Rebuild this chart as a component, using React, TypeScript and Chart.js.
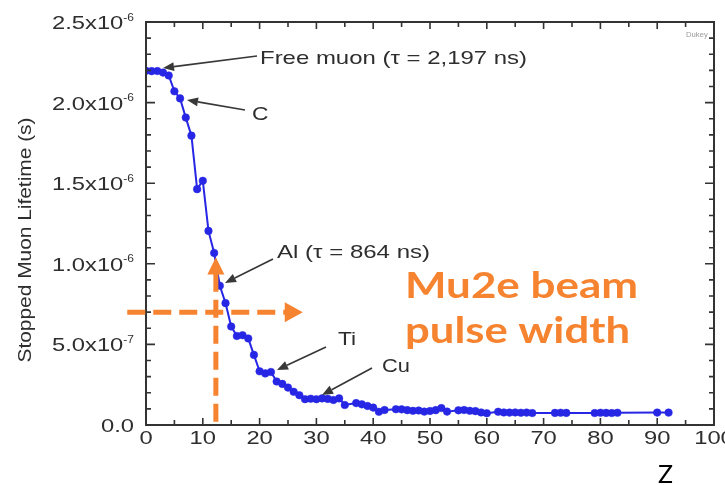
import React, { useEffect, useRef } from 'react';
import { Chart, registerables } from 'chart.js';

Chart.register(...registerables);

// ---- data ----
const atomicNumbers = [
  0, 1, 2, 3, 4, 5, 6, 7, 8, 9, 10, 11, 12, 13, 14, 15, 16, 17, 18, 19, 20,
  21, 22, 23, 24, 25, 26, 27, 28, 29, 30, 31, 32, 33, 34, 35, 37, 38, 39, 40,
  41, 42, 44, 45, 46, 47, 48, 49, 50, 51, 52, 53, 55, 56, 57, 58, 59, 60, 62,
  63, 64, 65, 66, 67, 68, 72, 73, 74, 79, 80, 81, 82, 83, 90, 92,
];
// stopped muon lifetime in microseconds
const lifetimesUs = [
  2.197, 2.195, 2.196, 2.186, 2.168, 2.07, 2.026, 1.907, 1.795, 1.463, 1.515,
  1.204, 1.067, 0.864, 0.756, 0.611, 0.552, 0.557, 0.537, 0.435, 0.333,
  0.32, 0.329, 0.27, 0.255, 0.232, 0.206, 0.185, 0.16, 0.163, 0.16, 0.165,
  0.162, 0.155, 0.165, 0.124, 0.136, 0.128, 0.118, 0.108, 0.082, 0.093,
  0.098, 0.097, 0.092, 0.088, 0.09, 0.083, 0.087, 0.092, 0.105, 0.083,
  0.091, 0.093, 0.088, 0.086, 0.078, 0.073, 0.082, 0.078, 0.077, 0.078,
  0.076, 0.077, 0.074, 0.075, 0.076, 0.075, 0.074, 0.076, 0.075, 0.074,
  0.076, 0.077, 0.077,
];
const xTickValues = [0, 10, 20, 30, 40, 50, 60, 70, 80, 90, 100];
const xTickLabels = ['0', '10', '20', '30', '40', '50', '60', '70', '80', '90', '100'];
const yTickValues = [0, 0.5e-6, 1.0e-6, 1.5e-6, 2.0e-6, 2.5e-6];
const yTickMantissas = ['0.0', '5.0x10', '1.0x10', '1.5x10', '2.0x10', '2.5x10'];
const yTickExponents = ['', '-7', '-6', '-6', '-6', '-6'];

const annotationTexts = [
  'Free muon (\u03c4 = 2,197 ns)',
  'C',
  'Al (\u03c4 = 864 ns)',
  'Ti',
  'Cu',
];
const pulseWidthLifetime = 0.7e-6;
const pulseWidthZ = 12.3;

const BLUE = '#2626e4';
const ORANGE = '#f6832f';
const AXIS = '#333333';
const TEXT = '#2e2e2e';
const ARIAL = '"Liberation Sans", Arial, sans-serif';
const CAL = 'Lato, "Open Sans", sans-serif';

function drawText(
  ctx: CanvasRenderingContext2D,
  s: string,
  x: number,
  y: number,
  font: string,
  color: string,
  align: 'left' | 'right' | 'center',
  sx: number,
  targetWidth?: number
) {
  ctx.save();
  ctx.font = font;
  ctx.fillStyle = color;
  ctx.textBaseline = 'alphabetic';
  ctx.textAlign = 'left';
  const raw = ctx.measureText(s).width;
  const scale = targetWidth ? targetWidth / raw : sx;
  const w = raw * scale;
  const x0 = align === 'left' ? x : align === 'right' ? x - w : x - w / 2;
  ctx.translate(x0, y);
  ctx.scale(scale, 1);
  ctx.fillText(s, 0, 0);
  ctx.restore();
  return w;
}

function arrow(
  ctx: CanvasRenderingContext2D,
  x1: number,
  y1: number,
  x2: number,
  y2: number,
  color: string,
  lw: number,
  headLen: number,
  headHalf: number
) {
  const ang = Math.atan2(y2 - y1, x2 - x1);
  const bx = x2 - headLen * Math.cos(ang);
  const by = y2 - headLen * Math.sin(ang);
  ctx.save();
  ctx.strokeStyle = color;
  ctx.fillStyle = color;
  ctx.lineWidth = lw;
  ctx.beginPath();
  ctx.moveTo(x1, y1);
  ctx.lineTo(bx, by);
  ctx.stroke();
  ctx.beginPath();
  ctx.moveTo(x2, y2);
  ctx.lineTo(bx + headHalf * Math.sin(ang), by - headHalf * Math.cos(ang));
  ctx.lineTo(bx - headHalf * Math.sin(ang), by + headHalf * Math.cos(ang));
  ctx.closePath();
  ctx.fill();
  ctx.restore();
}

const decorPlugin = {
  id: 'decor',
  afterDatasetsDraw(chart: any) {
    const ctx: CanvasRenderingContext2D = chart.ctx;
    const xs = chart.scales.x;
    const ys = chart.scales.y;
    const { left, right, top, bottom } = chart.chartArea;

    // frame
    ctx.save();
    ctx.strokeStyle = AXIS;
    ctx.lineWidth = 2;
    ctx.strokeRect(left, top, right - left, bottom - top);

    // x ticks (inward, bottom & top)
    ctx.lineWidth = 1.6;
    for (let v = 0; v <= 100; v += 5) {
      const px = xs.getPixelForValue(v);
      const len = v % 10 === 0 ? 7 : 5;
      ctx.beginPath();
      ctx.moveTo(px, bottom);
      ctx.lineTo(px, bottom - len);
      ctx.moveTo(px, top);
      ctx.lineTo(px, top + len);
      ctx.stroke();
    }
    // y ticks (inward, left & right)
    for (let i = 0; i <= 25; i++) {
      const py = ys.getPixelForValue(i * 1e-7);
      const len = i % 5 === 0 ? 9 : 5;
      ctx.beginPath();
      ctx.moveTo(left, py);
      ctx.lineTo(left + len, py);
      ctx.moveTo(right, py);
      ctx.lineTo(right - len, py);
      ctx.stroke();
    }
    ctx.restore();

    // black annotation arrows
    const arrows = [
      [257, 56, 163, 68],
      [245, 110, 187, 100],
      [273, 259, 225, 283],
      [326, 347, 277, 370],
      [372, 368, 322, 395],
    ];
    arrows.forEach((a) => arrow(ctx, a[0], a[1], a[2], a[3], '#383838', 1.7, 11, 4.5));

    // orange dashed arrows (pulse width)
    const hy = ys.getPixelForValue(pulseWidthLifetime);
    const hx0 = xs.getPixelForValue(-3.3);
    const hx1 = xs.getPixelForValue(24.6);
    const htip = xs.getPixelForValue(27.6);
    const vx = xs.getPixelForValue(pulseWidthZ);
    const vy0 = ys.getPixelForValue(0.02e-6);
    const vy1 = ys.getPixelForValue(0.94e-6);
    const vtip = ys.getPixelForValue(1.04e-6);
    ctx.save();
    ctx.strokeStyle = ORANGE;
    ctx.fillStyle = ORANGE;
    ctx.lineWidth = 5;
    ctx.setLineDash([18, 8]);
    ctx.beginPath();
    ctx.moveTo(hx0, hy);
    ctx.lineTo(hx1, hy);
    ctx.stroke();
    ctx.beginPath();
    ctx.moveTo(vx, vy0);
    ctx.lineTo(vx, vy1);
    ctx.stroke();
    ctx.setLineDash([]);
    ctx.beginPath();
    ctx.moveTo(htip, hy);
    ctx.lineTo(hx1 - 1, hy - 10);
    ctx.lineTo(hx1 - 1, hy + 10);
    ctx.closePath();
    ctx.fill();
    ctx.beginPath();
    ctx.moveTo(vx, vtip);
    ctx.lineTo(vx - 8.5, vy1 + 1);
    ctx.lineTo(vx + 8.5, vy1 + 1);
    ctx.closePath();
    ctx.fill();
    ctx.restore();
  },
  afterDraw(chart: any) {
    const ctx: CanvasRenderingContext2D = chart.ctx;
    const xs = chart.scales.x;
    const ys = chart.scales.y;

    // x tick labels
    xTickValues.forEach((v, i) => {
      drawText(ctx, xTickLabels[i], xs.getPixelForValue(v), 443.5, `19px ${ARIAL}`, TEXT, 'center', 1.25);
    });

    // y tick labels with superscript exponents
    yTickValues.forEach((v, i) => {
      const py = ys.getPixelForValue(v);
      const labelRight = 134;
      ctx.save();
      ctx.font = `10px ${ARIAL}`;
      const expW = yTickExponents[i] ? ctx.measureText(yTickExponents[i]).width * 1.2 : 0;
      ctx.restore();
      drawText(ctx, yTickMantissas[i], labelRight - expW, py + 7, `19px ${ARIAL}`, TEXT, 'right', 1.25);
      if (yTickExponents[i]) {
        drawText(ctx, yTickExponents[i], labelRight - expW, py - 1.5, `10px ${ARIAL}`, TEXT, 'left', 1.2);
      }
    });

    // y axis title
    ctx.save();
    ctx.font = `16px ${ARIAL}`;
    ctx.fillStyle = TEXT;
    ctx.textAlign = 'center';
    ctx.textBaseline = 'alphabetic';
    const title = 'Stopped Muon Lifetime (s)';
    const tw = ctx.measureText(title).width;
    ctx.translate(31, 240);
    ctx.rotate(-Math.PI / 2);
    ctx.scale(245 / tw, 1.2);
    ctx.fillText(title, 0, 0);
    ctx.restore();

    // annotation labels
    drawText(ctx, annotationTexts[0], 260, 63.5, `19px ${ARIAL}`, TEXT, 'left', 1, 267);
    drawText(ctx, annotationTexts[1], 252, 120, `19px ${ARIAL}`, TEXT, 'left', 1.2);
    drawText(ctx, annotationTexts[2], 277, 257.5, `19px ${ARIAL}`, TEXT, 'left', 1, 153);
    drawText(ctx, annotationTexts[3], 338, 345, `19px ${ARIAL}`, TEXT, 'left', 1.2);
    drawText(ctx, annotationTexts[4], 382, 372, `19px ${ARIAL}`, TEXT, 'left', 1.15);
    drawText(ctx, 'Dukey', 686, 37, `7px ${ARIAL}`, '#9a9a9a', 'left', 1.1);

    // overlay texts
    drawText(ctx, 'Mu2e beam', 405, 298, `bold 36px ${CAL}`, ORANGE, 'left', 1, 233);
    drawText(ctx, 'pulse width', 405, 343, `bold 36px ${CAL}`, ORANGE, 'left', 1, 225);
    drawText(ctx, 'Z', 658, 483, `25px ${CAL}`, '#000', 'left', 1, 15);
  },
};

export default function App() {
  const canvasRef = useRef<HTMLCanvasElement | null>(null);

  useEffect(() => {
    document.body.style.margin = '0';
    const canvas = canvasRef.current;
    if (!canvas) return;
    const points = atomicNumbers.map((z, i) => ({ x: z, y: lifetimesUs[i] * 1e-6 }));
    const chart = new Chart(canvas, {
      type: 'line',
      data: {
        datasets: [
          {
            data: points,
            borderColor: BLUE,
            backgroundColor: BLUE,
            pointBackgroundColor: BLUE,
            pointBorderColor: BLUE,
            borderWidth: 2,
            pointRadius: 3.8,
            pointBorderWidth: 0.5,
            tension: 0,
          },
        ],
      },
      options: {
        responsive: false,
        animation: false,
        events: [],
        layout: { padding: { left: 146, top: 22, right: 11, bottom: 60 } },
        plugins: { legend: { display: false }, tooltip: { enabled: false } },
        scales: {
          x: { type: 'linear', min: 0, max: 100, display: false },
          y: { type: 'linear', min: 0, max: 2.5e-6, display: false },
        },
      },
      plugins: [decorPlugin],
    });
    return () => chart.destroy();
  }, []);

  return (
    <div style={{ width: 725, height: 485, background: '#fff' }}>
      <canvas ref={canvasRef} width={725} height={485} style={{ display: 'block' }} />
    </div>
  );
}
